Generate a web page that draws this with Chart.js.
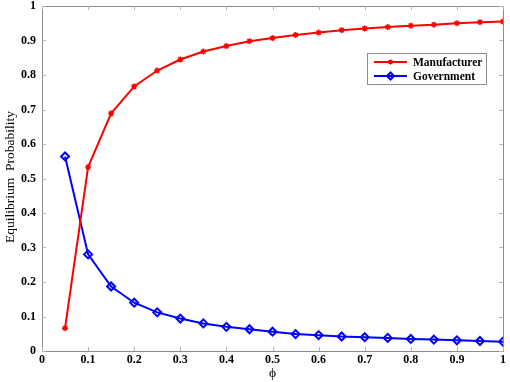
<!DOCTYPE html>
<html>
<head>
<meta charset="utf-8">
<script src="https://cdn.jsdelivr.net/npm/chart.js@4/dist/chart.umd.min.js"></script>
<style>
  html, body { margin: 0; padding: 0; background: #fff; }
  #wrap { width: 510px; height: 382px; position: relative; }
</style>
</head>
<body>
<div id="wrap"><canvas id="chart"></canvas></div>
<script>
// ---------------------------------------------------------
// DATA
// ---------------------------------------------------------
const phiValues = [0.05, 0.1, 0.15, 0.2, 0.25, 0.3, 0.35, 0.4, 0.45, 0.5,
                   0.55, 0.6, 0.65, 0.7, 0.75, 0.8, 0.85, 0.9, 0.95, 1];
const manufacturer = [0.066, 0.533, 0.689, 0.767, 0.813, 0.845, 0.868, 0.884, 0.898, 0.907,
                      0.916, 0.923, 0.930, 0.935, 0.939, 0.943, 0.946, 0.950, 0.953, 0.955];
const government = [0.564, 0.280, 0.187, 0.140, 0.112, 0.094, 0.080, 0.070, 0.063, 0.056,
                    0.049, 0.046, 0.042, 0.040, 0.038, 0.035, 0.033, 0.031, 0.029, 0.027];
const tickValues = [0, 0.1, 0.2, 0.3, 0.4, 0.5, 0.6, 0.7, 0.8, 0.9, 1];
const seriesNames = ["Manufacturer", "Government"];

const SERIF = "'Liberation Serif', 'DejaVu Serif', serif";
const AXIS_GRAY = "#8c8c8c";

function toPoints(ys) {
    return phiValues.map((x, i) => ({ x: x, y: ys[i] }));
}

// box, inward ticks, titles and legend
const framePlugin = {
    id: "frame",
    afterDatasetsDraw(chart) {
        const { ctx, chartArea: a, scales } = chart;
        ctx.save();
        ctx.strokeStyle = AXIS_GRAY;
        ctx.lineWidth = 1;
        ctx.strokeRect(a.left + 0.5, a.top + 0.5, a.right - a.left, a.bottom - a.top);
        ctx.strokeStyle = "#b5b5b5";
        ctx.beginPath();
        tickValues.forEach(v => {
            const px = Math.round(scales.x.getPixelForValue(v)) + 0.5;
            ctx.moveTo(px, a.bottom); ctx.lineTo(px, a.bottom - 4);
            ctx.moveTo(px, a.top); ctx.lineTo(px, a.top + 4);
            const py = Math.round(scales.y.getPixelForValue(v)) + 0.5;
            ctx.moveTo(a.left, py); ctx.lineTo(a.left + 4, py);
            ctx.moveTo(a.right, py); ctx.lineTo(a.right - 4, py);
        });
        ctx.stroke();

        // axis titles
        ctx.fillStyle = "#000";
        ctx.font = "13.5px " + SERIF;
        ctx.textAlign = "center";
        ctx.textBaseline = "middle";
        ctx.fillText("\u03D5", (a.left + a.right) / 2, 373);
        ctx.save();
        ctx.translate(10, 177);
        ctx.rotate(-Math.PI / 2);
        ctx.fillText("Equilibrium  Probability", 0, 0);
        ctx.restore();

        // legend
        const lx = 367, ly = 53, lw = 119, lh = 31;
        ctx.fillStyle = "#fff";
        ctx.fillRect(lx, ly, lw, lh);
        ctx.strokeStyle = AXIS_GRAY;
        ctx.strokeRect(lx + 0.5, ly + 0.5, lw, lh);
        ctx.font = "bold 11.5px " + SERIF;
        ctx.textAlign = "left";
        chart.data.datasets.forEach((ds, i) => {
            const y = ly + 9 + i * 14;
            ctx.strokeStyle = ds.borderColor;
            ctx.fillStyle = ds.backgroundColor;
            ctx.lineWidth = 2;
            ctx.beginPath();
            ctx.moveTo(lx + 7, y); ctx.lineTo(lx + 40, y);
            ctx.stroke();
            ctx.lineWidth = ds.pointBorderWidth;
            Chart.helpers.drawPoint(ctx, {
                pointStyle: ds.pointStyle, radius: ds.pointRadius - 0.5,
                rotation: 0, borderWidth: ds.pointBorderWidth
            }, lx + 23.5, y);
            ctx.fillStyle = "#000";
            ctx.fillText(ds.label, lx + 46, y + 1);
        });
        ctx.restore();
    }
};

new Chart(document.getElementById("chart"), {
    type: "line",
    data: {
        datasets: [
            {
                label: seriesNames[0],
                data: toPoints(manufacturer),
                borderColor: "#ff0000",
                backgroundColor: "#ff0000",
                borderWidth: 2,
                pointStyle: "star",
                pointRadius: 3,
                pointBorderWidth: 1.4,
                pointBorderColor: "#ff0000",
                pointBackgroundColor: "#ff0000",
                tension: 0
            },
            {
                label: seriesNames[1],
                data: toPoints(government),
                borderColor: "#0000ff",
                backgroundColor: "rgba(0,0,255,0)",
                borderWidth: 2,
                pointStyle: "rectRot",
                pointRadius: 4,
                pointBorderWidth: 2,
                pointBorderColor: "#0000ff",
                pointBackgroundColor: "rgba(0,0,255,0)",
                tension: 0
            }
        ]
    },
    options: {
        responsive: true,
        maintainAspectRatio: false,
        animation: false,
        layout: { padding: { top: 5, right: 7, left: 0, bottom: 0 } },
        plugins: { legend: { display: false }, tooltip: { enabled: false } },
        scales: {
            x: {
                type: "linear",
                min: 0, max: 1,
                grid: { display: false },
                border: { display: false },
                afterFit: s => { s.height = 31; },
                afterBuildTicks: s => { s.ticks = tickValues.map(v => ({ value: v })); },
                ticks: {
                    padding: -6,
                    color: "#000",
                    font: { family: SERIF, size: 12, weight: "bold" },
                    callback: v => String(v)
                }
            },
            y: {
                type: "linear",
                min: 0, max: 1,
                grid: { display: false },
                border: { display: false },
                afterFit: s => { s.width = 42; },
                afterBuildTicks: s => { s.ticks = tickValues.map(v => ({ value: v })); },
                ticks: {
                    padding: -2,
                    color: "#000",
                    font: { family: SERIF, size: 12, weight: "bold" },
                    callback: v => String(v)
                }
            }
        }
    },
    plugins: [framePlugin]
});
</script>
</body>
</html>
